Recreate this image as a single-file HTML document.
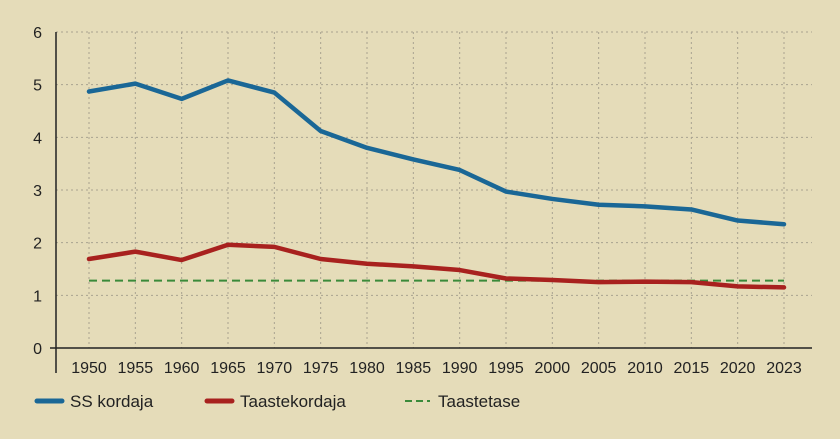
<!DOCTYPE html>
<html><head><meta charset="utf-8"><style>
body{margin:0;background:#e5dcb9;}
svg{display:block;font-family:"Liberation Sans",sans-serif;}
</style></head><body>
<svg id="c" width="840" height="439"></svg>
<script>
const categories=["1950","1955","1960","1965","1970","1975","1980","1985","1990","1995","2000","2005","2010","2015","2020","2023"];
const ssValues=[4.87,5.02,4.73,5.08,4.85,4.12,3.8,3.58,3.38,2.97,2.83,2.72,2.69,2.63,2.42,2.35];
const taasteValues=[1.69,1.83,1.67,1.96,1.92,1.69,1.6,1.55,1.48,1.32,1.29,1.25,1.26,1.25,1.17,1.15];
const taastetase=1.28;
const yTicks=[0,1,2,3,4,5,6];
const NS="http://www.w3.org/2000/svg";
const svg=document.getElementById('c');
const x0=89,x1=784,y0=348,y6=32;
function X(i){return x0+(x1-x0)*i/(categories.length-1);}
function Y(v){return y0-(y0-y6)*v/6;}
function mk(t,a,p){const e=document.createElementNS(NS,t);for(const k in a)e.setAttribute(k,a[k]);(p||svg).appendChild(e);return e;}
yTicks.forEach(v=>{if(v>0){const l=mk('line',{x1:56,x2:812,y1:Y(v),y2:Y(v),stroke:'#a9a290','stroke-dasharray':'2 3','stroke-width':1});

}
const t=mk('text',{x:42,y:Y(v)+6,'text-anchor':'end','font-size':16,fill:'#222'});t.textContent=v;

});
categories.forEach((c,i)=>{const l=mk('line',{x1:X(i),x2:X(i),y1:32,y2:348,stroke:'#a9a290','stroke-dasharray':'2 3','stroke-width':1});


const t=mk('text',{x:X(i),y:373,'text-anchor':'middle','font-size':16,fill:'#222'});t.textContent=c;

});
const ax=mk('line',{x1:56,x2:56,y1:32,y2:373,stroke:'#222','stroke-width':1.5});


const bx=mk('line',{x1:50,x2:812,y1:348,y2:348,stroke:'#222','stroke-width':1.5});


const g=mk('line',{x1:X(0),x2:X(categories.length-1),y1:Y(taastetase),y2:Y(taastetase),stroke:'#3a8a3a','stroke-width':2,'stroke-dasharray':'8 5'});


function line(vals,col,name){const p=mk('polyline',{points:vals.map((v,i)=>X(i)+','+Y(v)).join(' '),fill:'none',stroke:col,'stroke-width':4.5,'stroke-linejoin':'round','stroke-linecap':'round'});

}
line(taasteValues,'#a8211e','taastekordaja-line');
line(ssValues,'#1a6796','ss-kordaja-line');
const leg=[[37,'#1a6796','SS kordaja',0],[207,'#a8211e','Taastekordaja',0],[405,'#3a8a3a','Taastetase',1]];
leg.forEach(([x,col,txt,d])=>{const l=mk('line',{x1:x,x2:x+25,y1:401,y2:401,stroke:col,'stroke-width':d?2:5,'stroke-linecap':d?'butt':'round'});
if(d)l.setAttribute('stroke-dasharray','7 4');


const t=mk('text',{x:x+33,y:407,'font-size':17,fill:'#222'});t.textContent=txt;

});
</script>
</body></html>
